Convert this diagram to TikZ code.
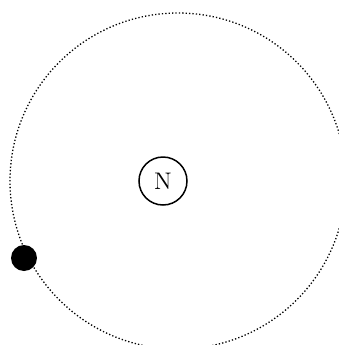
\documentclass[tikz,border=0pt]{standalone}
\begin{document}
\begin{tikzpicture}[x=0.5pt,y=-0.5pt,
  orbit/.style={line width=0.65pt,dash pattern=on 0.65pt off 1.05pt},
  nucleus/.style={circle,draw,line width=0.75pt,minimum size=24pt,inner sep=0pt,font=\large},
  electron/.style={circle,fill=black,minimum size=13pt,inner sep=0pt}]
\useasboundingbox (0,0) rectangle (339,345);
\clip (0,0) rectangle (339,345);
\coordinate (c) at (178,181);
\draw[orbit] (c) circle[radius=84pt];
\node[nucleus] (n) at (163,181) {N};
\node[electron] (e) at (24,258) {};
\end{tikzpicture}
\end{document}
